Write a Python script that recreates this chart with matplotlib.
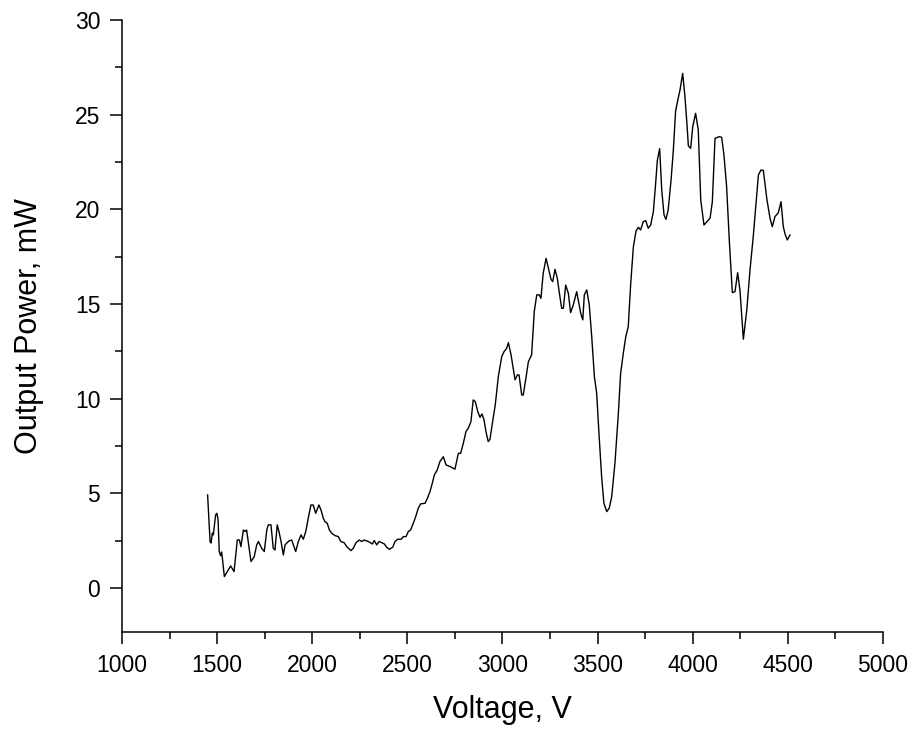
import matplotlib
matplotlib.use("Agg")
from matplotlib import pyplot as plt
from matplotlib.ticker import MultipleLocator

plt.rcParams['font.family'] = ['Liberation Sans', 'DejaVu Sans']

# voltage (V) and output power (mW)
voltage = [1450, 1463, 1468, 1475, 1480, 1492, 1499, 1505, 1511, 1518, 1524, 1538,
           1559, 1571, 1589, 1606, 1617, 1625, 1638, 1647, 1655, 1678, 1695, 1708,
           1717, 1734, 1748, 1761, 1769, 1783, 1795, 1804, 1816, 1825, 1836, 1848,
           1857, 1866, 1878, 1892, 1901, 1913, 1927, 1941, 1953, 1966, 1979, 1993,
           2005, 2018, 2035, 2046, 2058, 2067, 2079, 2090, 2102, 2120, 2137, 2150,
           2167, 2184, 2204, 2216, 2230, 2247, 2260, 2272, 2295, 2316, 2326, 2339,
           2351, 2365, 2379, 2391, 2405, 2423, 2435, 2449, 2467, 2479, 2493, 2505,
           2517, 2531, 2544, 2557, 2570, 2593, 2605, 2619, 2631, 2642, 2657, 2671,
           2689, 2703, 2724, 2750, 2768, 2780, 2794, 2808, 2820, 2834, 2846, 2857,
           2870, 2882, 2892, 2903, 2913, 2925, 2934, 2948, 2962, 2978, 2996, 3008,
           3022, 3031, 3045, 3066, 3078, 3087, 3101, 3109, 3123, 3136, 3153, 3167,
           3180, 3193, 3202, 3214, 3229, 3241, 3255, 3264, 3276, 3288, 3299, 3311,
           3320, 3332, 3346, 3358, 3372, 3390, 3398, 3411, 3422, 3430, 3443, 3456,
           3469, 3483, 3495, 3507, 3521, 3533, 3548, 3561, 3574, 3591, 3609, 3621,
           3635, 3648, 3661, 3674, 3688, 3702, 3714, 3726, 3740, 3753, 3766, 3779,
           3793, 3805, 3814, 3826, 3837, 3849, 3859, 3871, 3886, 3898, 3910, 3922,
           3933, 3947, 3959, 3968, 3977, 3989, 4000, 4015, 4029, 4042, 4059, 4075,
           4091, 4103, 4117, 4140, 4152, 4164, 4178, 4192, 4208, 4222, 4236, 4248,
           4266, 4284, 4301, 4318, 4345, 4359, 4371, 4389, 4406, 4418, 4432, 4450,
           4464, 4476, 4485, 4497, 4511]
power = [4.91, 2.45, 2.37, 2.9, 2.8, 3.85, 3.94, 3.6, 1.92, 1.7, 1.9, 0.6,
         0.95, 1.16, 0.86, 2.53, 2.53, 2.18, 3.06, 2.98, 3.06, 1.39, 1.65, 2.27,
         2.45, 2.1, 1.92, 3.06, 3.33, 3.33, 2.1, 2.0, 3.33, 2.98, 2.45, 1.74,
         2.27, 2.37, 2.48, 2.53, 2.27, 1.92, 2.45, 2.8, 2.57, 2.98, 3.68, 4.38,
         4.38, 3.94, 4.38, 4.12, 3.68, 3.5, 3.41, 3.06, 2.89, 2.76, 2.71, 2.45,
         2.39, 2.15, 1.97, 2.1, 2.39, 2.53, 2.45, 2.53, 2.45, 2.32, 2.5, 2.27,
         2.45, 2.39, 2.32, 2.15, 2.04, 2.15, 2.45, 2.57, 2.57, 2.71, 2.71, 2.98,
         3.06, 3.41, 3.77, 4.2, 4.44, 4.47, 4.73, 5.09, 5.53, 5.97, 6.23, 6.67,
         6.93, 6.5, 6.41, 6.27, 7.11, 7.11, 7.64, 8.26, 8.43, 8.78, 9.93, 9.84,
         9.31, 9.01, 9.19, 8.87, 8.26, 7.73, 7.84, 8.78, 9.67, 11.16, 12.22, 12.48,
         12.66, 12.96, 12.31, 10.99, 11.25, 11.25, 10.19, 10.19, 11.07, 11.95, 12.31, 14.6,
         15.48, 15.48, 15.3, 16.62, 17.41, 16.89, 16.3, 16.18, 16.83, 16.36, 15.57, 14.77,
         14.77, 16.0, 15.57, 14.54, 14.95, 15.65, 15.21, 14.51, 14.16, 15.48, 15.74, 14.95,
         13.27, 11.16, 10.28, 8.17, 5.88, 4.47, 4.03, 4.21, 4.82, 6.58, 9.22, 11.34,
         12.4, 13.27, 13.8, 16.09, 18.03, 18.86, 19.05, 18.91, 19.35, 19.4, 19.0, 19.17,
         19.88, 21.37, 22.6, 23.2, 21.02, 19.7, 19.47, 19.97, 21.55, 23.13, 25.2, 25.8,
         26.3, 27.18, 25.95, 24.72, 23.35, 23.22, 24.37, 25.07, 24.19, 20.49, 19.17, 19.35,
         19.53, 20.4, 23.75, 23.84, 23.8, 22.87, 21.2, 18.38, 15.6, 15.65, 16.65, 15.74,
         13.14, 14.68, 16.8, 18.56, 21.81, 22.08, 22.05, 20.58, 19.53, 19.08, 19.61, 19.82,
         20.4, 19.08, 18.7, 18.38, 18.64]

fig = plt.figure(figsize=(9.15, 7.34), dpi=100)
ax = fig.add_axes([122/915, 102/734, 761/915, 612/734])

ax.plot(voltage, power, color='black', linewidth=1.0)

ax.set_xlim(1000, 5000)
ax.set_ylim(-2.33, 30)
ax.xaxis.set_major_locator(MultipleLocator(500))
ax.xaxis.set_minor_locator(MultipleLocator(250))
ax.yaxis.set_major_locator(MultipleLocator(5))
ax.yaxis.set_minor_locator(MultipleLocator(2.5))

for side in ('top', 'right'):
    ax.spines[side].set_visible(False)
for side in ('left', 'bottom'):
    ax.spines[side].set_linewidth(1.1)

ax.tick_params(which='major', direction='out', length=8.6, width=1.1, labelsize=16.5, pad=7)
ax.tick_params(which='minor', direction='out', length=5, width=1.1)

ax.set_xlabel('Voltage, V', fontsize=22, labelpad=13)
ax.set_ylabel('Output Power, mW', fontsize=22, labelpad=22)

plt.savefig('out.png', dpi=100)
